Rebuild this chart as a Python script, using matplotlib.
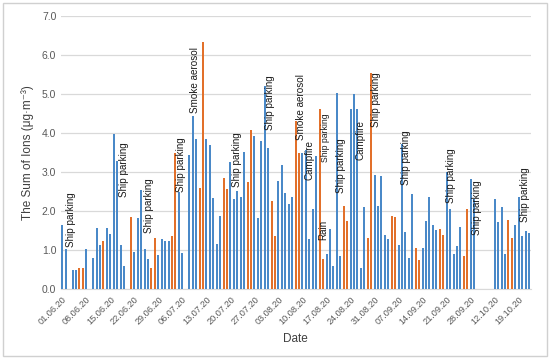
import matplotlib
matplotlib.use("Agg")
import matplotlib.pyplot as plt
from matplotlib.patches import Rectangle
import numpy as np

# ---- data (one value per category; None = no measurement) ----
values = [
    1.64, 1.02, None, 0.49, 0.48, 0.53, 0.53, 1.02, None, 0.80,
    1.56, 1.13, 1.23, 1.56, 1.41, 3.97, 3.28, 1.13, 0.59, None,
    1.85, 0.96, 1.82, 2.55, 1.03, 0.77, 0.54, 1.31, 0.88, 1.28,
    1.22, 1.23, 1.37, 3.50, 2.50, 0.92, None, 3.44, 4.43, 3.84,
    2.60, 6.33, 3.84, 3.69, 2.33, 1.16, 1.86, 2.86, 2.56, 3.25,
    2.31, 2.52, 2.35, 3.51, 2.74, 4.08, 3.92, 1.81, 3.79, 5.21,
    3.61, 2.27, 1.37, 2.78, 3.19, 2.46, 2.19, 2.35, 4.32, 3.48,
    3.48, 3.57, 1.29, 2.06, 3.42, 4.63, 0.77, 0.90, 1.55, 0.58,
    5.04, 0.85, 2.14, 1.75, 4.63, 5.01, 4.63, 0.53, 2.10, 1.30,
    5.55, 2.93, 2.14, 2.89, 1.38, 1.29, 1.86, 1.85, 1.12, 3.72,
    1.45, 0.79, 2.44, 1.05, 0.75, 1.05, 1.75, 2.35, 1.63, 1.52,
    1.54, 1.39, 3.00, 2.05, 0.91, 1.11, 1.59, 0.85, 2.05, 2.83,
    2.31, None, None, None, None, None, 2.31, 1.71, 2.10, 0.90,
    1.78, 1.32, 1.65, 2.36, 1.35, 1.49, 1.44,
]
# indices of categories drawn in orange (weekend days)
orange_idx = [5, 6, 12, 20, 26, 27, 32, 33, 40, 41, 47, 48, 54, 55, 61, 62,
              68, 69, 75, 76, 82, 83, 89, 90, 96, 97, 103, 104, 110, 111,
              117, 118, 130, 131]

tick_labels = ["01.06.20", "08.06.20", "15.06.20", "22.06.20", "29.06.20",
               "06.07.20", "13.07.20", "20.07.20", "27.07.20", "03.08.20",
               "10.08.20", "17.08.20", "24.08.20", "31.08.20", "07.09.20",
               "14.09.20", "21.09.20", "28.09.20", "12.10.20", "19.10.20"]

# annotations: (text, category position, value at text bottom, small font?)
notes = [
    ("Ship parking", 2.5, 1.08, False),
    ("Ship parking", 18.0, 2.36, False),
    ("Ship parking", 25.2, 1.44, False),
    ("Ship parking", 34.5, 2.49, False),
    ("Smoke aerosol", 38.8, 4.51, False),
    ("Ship parking", 50.9, 2.62, False),
    ("Ship parking", 60.5, 4.08, False),
    ("Smoke aerosol", 69.7, 3.82, False),
    ("Campfire", 72.1, 2.79, False),
    ("Ship parking", 76.6, 3.26, True),
    ("Rain", 76.0, 1.26, False),
    ("Ship parking", 81.1, 2.46, False),
    ("Campfire", 86.9, 3.31, False),
    ("Ship parking", 91.4, 4.15, False),
    ("Ship parking", 100.1, 2.67, False),
    ("Ship parking", 113.4, 2.21, False),
    ("Ship parking", 120.7, 1.38, False),
    ("Ship parking", 134.7, 1.72, False),
]

BLUE = "#4a89c8"
ORANGE = "#e2702a"

plt.rcParams['font.family'] = ['Liberation Sans', 'DejaVu Sans']

fig = plt.figure(figsize=(5.5, 3.59), dpi=100)
fig.patches.append(Rectangle((0.006, 0.008), 0.988, 0.984, transform=fig.transFigure,
                             fill=False, edgecolor="#d0d0d0", linewidth=1.0))
ax = fig.add_axes([0.110, 0.195, 0.855, 0.760])

n = len(values)
x = np.arange(n)
h = np.array([np.nan if v is None else v for v in values])
colors = [ORANGE if i in orange_idx else BLUE for i in range(n)]
ax.bar(x, np.nan_to_num(h), width=0.58, color=colors, zorder=3)

ax.set_xlim(-0.5, n - 0.5)
ax.set_ylim(0, 7.0)
ax.set_yticks(np.arange(0, 7.01, 1.0))
ax.set_yticklabels([f"{v:.1f}" for v in np.arange(0, 7.01, 1.0)], fontsize=7.5, color="#595959")
ax.grid(axis='y', color="#d9d9d9", linewidth=0.9, zorder=0)
ax.set_axisbelow(True)

ticks = np.arange(0, 7 * len(tick_labels), 7)
ax.set_xticks(ticks)
ax.set_xticklabels(tick_labels, rotation=45, ha='right', rotation_mode='anchor',
                   fontsize=6.6, color="#595959")
ax.tick_params(axis='both', length=0, pad=3)
ax.tick_params(axis='x', pad=4)

for s in ['top', 'right', 'left']:
    ax.spines[s].set_visible(False)
ax.spines['bottom'].set_color("#d9d9d9")

ax.set_xlabel("Date", fontsize=8.5, color="#404040", labelpad=5)
ax.set_ylabel("The Sum of Ions (μg·m⁻³)", fontsize=8.5, color="#404040", labelpad=6)

for text, xp, yp, small in notes:
    ax.text(xp, yp, text, rotation=90, ha='center', va='bottom',
            fontsize=6.2 if small else 7.1, color="#1a1a1a", zorder=4)

fig.savefig("out.png", dpi=100)
